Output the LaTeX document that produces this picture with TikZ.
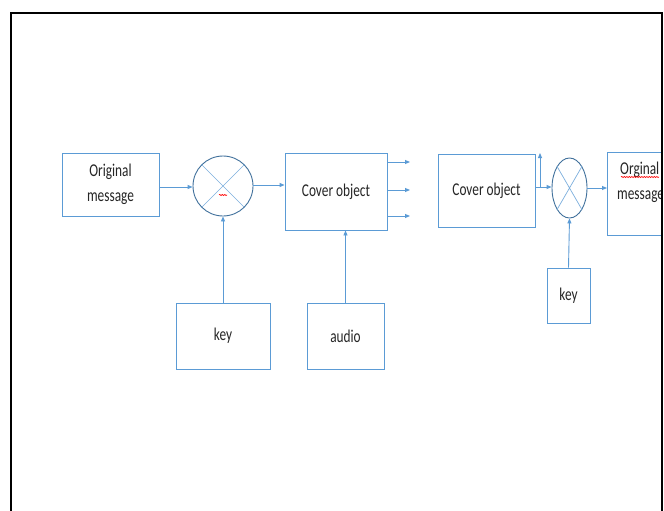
\documentclass[tikz,border=0pt]{standalone}
\usepackage{fontspec}
\newfontfamily\cf[FakeStretch=0.74]{Carlito}
\usetikzlibrary{arrows.meta,shapes.geometric,decorations.pathmorphing}
\definecolor{boxblue}{HTML}{5B9BD5}
\definecolor{ringblue}{HTML}{41719C}
\definecolor{txt}{HTML}{262626}
\tikzset{
  tfont/.style={font=\cf\fontsize{18}{25}\selectfont,text=txt},
  blk/.style={draw=boxblue,line width=0.9pt,fill=white,inner sep=0pt,tfont,align=center},
  ring/.style={draw=ringblue,line width=0.9pt,fill=white,inner sep=0pt},
  crossline/.style={draw=boxblue!80,line width=0.7pt},
  flow/.style={draw=boxblue,line width=0.9pt,-{Triangle[length=5pt,width=4pt]}},
  squig/.style={draw=red,line width=0.6pt,decorate,decoration={snake,amplitude=0.6pt,segment length=2.5pt}}
}
\begin{document}
\begin{tikzpicture}[x=1pt,y=-1pt]
\useasboundingbox (0,0) rectangle (664,511);
\fill[white] (0,0) rectangle (664,511);
% frame
\draw[black,line width=2pt] (11,520) -- (11,13) -- (662,13) -- (662,520);
% left chain
\node[blk,minimum width=97,minimum height=63] (om1) at (110.5,184.5) {Original\\message};
\node[ring,circle,minimum size=60] (x1) at (223,186) {};
\draw[crossline] (x1.45) -- (x1.225) (x1.135) -- (x1.315);
\draw[squig] (219,195) -- (227,195);
\node[blk,minimum width=102,minimum height=77] (co1) at (336,191.5) {Cover object};
\node[blk,minimum width=94,minimum height=66] (key1) at (223,336) {key};
\node[blk,minimum width=77,minimum height=66] (aud) at (345.5,336) {audio};
\draw[flow] (om1.east |- 0,187) -- (x1.west |- 0,187);
\draw[flow] (x1.east |- 0,185) -- (co1.west |- 0,185);
\draw[flow] (key1.north) -- (x1.south);
\draw[flow] (aud.north) -- (aud.north |- co1.south);
\coordinate (o1) at (410,162);
\coordinate (o2) at (410,190);
\coordinate (o3) at (410,216);
\draw[flow] (co1.east |- o1) -- (o1);
\draw[flow] (co1.east |- o2) -- (o2);
\draw[flow] (co1.east |- o3) -- (o3);
% right chain
\node[blk,minimum width=97,minimum height=73] (co2) at (486.5,190.5) {Cover object};
\node[ring,ellipse,minimum width=35,minimum height=60] (x2) at (569.5,188) {};
\draw[crossline] (x2.60) -- (x2.240) (x2.120) -- (x2.300);
\node[blk,minimum width=43,minimum height=55] (key2) at (568.5,295.5) {key};
\coordinate (up) at (540,153);
\draw[flow] (co2.east |- 0,187) -- (x2.west |- 0,187);
\draw[draw=boxblue,line width=0.9pt] (540,187) -- (540,170);
\draw[flow] (540,170) -- (up);
\draw[flow] (key2.north) -- (x2.south);
\begin{scope}
\clip (0,0) rectangle (661,511);
\node[blk,minimum width=70,minimum height=83,anchor=west] (om2) at (607,193.5) {};
\node[tfont,anchor=base west,align=left,inner sep=0pt] (om2t) at (620,174) {Orginal};
\node[tfont,anchor=base west,align=left,inner sep=0pt] (om2u) at (617,199) {message};
\draw[squig] (621,177) -- (659,177);
\end{scope}
\draw[flow] (x2.east |- 0,188) -- (om2.west |- 0,188);
\draw[black,line width=2pt] (662,13) -- (662,520);
\end{tikzpicture}
\end{document}
